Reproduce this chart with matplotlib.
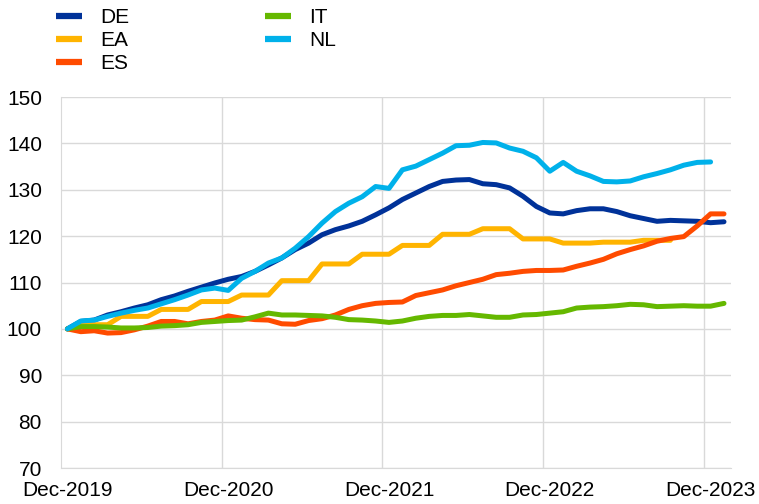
import matplotlib
matplotlib.use("Agg")
import matplotlib.pyplot as plt
import numpy as np

plt.rcParams['font.family'] = ['Liberation Sans', 'DejaVu Sans']

# monthly index, Dec-2019 = 100 (Dec-2019 .. Jan-2024)
months = ['Dec-2019', 'Jan-2020', 'Feb-2020', 'Mar-2020', 'Apr-2020', 'May-2020', 'Jun-2020',
          'Jul-2020', 'Aug-2020', 'Sep-2020', 'Oct-2020', 'Nov-2020', 'Dec-2020',
          'Jan-2021', 'Feb-2021', 'Mar-2021', 'Apr-2021', 'May-2021', 'Jun-2021',
          'Jul-2021', 'Aug-2021', 'Sep-2021', 'Oct-2021', 'Nov-2021', 'Dec-2021',
          'Jan-2022', 'Feb-2022', 'Mar-2022', 'Apr-2022', 'May-2022', 'Jun-2022',
          'Jul-2022', 'Aug-2022', 'Sep-2022', 'Oct-2022', 'Nov-2022', 'Dec-2022',
          'Jan-2023', 'Feb-2023', 'Mar-2023', 'Apr-2023', 'May-2023', 'Jun-2023',
          'Jul-2023', 'Aug-2023', 'Sep-2023', 'Oct-2023', 'Nov-2023', 'Dec-2023',
          'Jan-2024']

de = [100.0, 101.6, 101.9, 103.0, 103.7, 104.5, 105.2, 106.3, 107.1, 108.1, 109.0, 109.9, 110.7,
      111.3, 112.4, 113.8, 115.3, 117.1, 118.5, 120.3, 121.4, 122.2, 123.2, 124.6, 126.1,
      127.9, 129.3, 130.7, 131.8, 132.1, 132.2, 131.3, 131.1, 130.4, 128.6, 126.4, 125.0,
      124.8, 125.5, 125.9, 125.9, 125.3, 124.4, 123.8, 123.2, 123.4, 123.3, 123.2, 122.9,
      123.1]
ea = [100.0, 100.9, 100.9, 100.9, 102.7, 102.7, 102.7, 104.2, 104.2, 104.2, 105.9, 105.9, 105.9,
      107.3, 107.3, 107.3, 110.4, 110.4, 110.4, 114.0, 114.0, 114.0, 116.1, 116.1, 116.1,
      118.0, 118.0, 118.0, 120.4, 120.4, 120.4, 121.6, 121.6, 121.6, 119.4, 119.4, 119.4,
      118.5, 118.5, 118.5, 118.7, 118.7, 118.7, 119.1, 119.1, 119.1]
es = [100.0, 99.4, 99.6, 99.1, 99.2, 99.8, 100.6, 101.6, 101.6, 101.1, 101.6, 101.9, 102.8,
      102.3, 102.0, 101.9, 101.1, 101.0, 101.8, 102.2, 103.0, 104.2, 105.0, 105.5, 105.7,
      105.8, 107.2, 107.8, 108.4, 109.3, 110.0, 110.7, 111.7, 112.0, 112.4, 112.6, 112.6,
      112.7, 113.5, 114.2, 115.0, 116.2, 117.1, 117.9, 118.9, 119.5, 119.9, 122.2, 124.8,
      124.8]
it = [100.0, 100.5, 100.5, 100.4, 100.2, 100.2, 100.3, 100.6, 100.7, 100.9, 101.4, 101.6, 101.8,
      101.9, 102.6, 103.4, 103.0, 103.0, 102.9, 102.8, 102.5, 102.0, 101.9, 101.7, 101.4,
      101.7, 102.3, 102.7, 102.9, 102.9, 103.1, 102.8, 102.5, 102.5, 103.0, 103.1, 103.4,
      103.7, 104.5, 104.7, 104.8, 105.0, 105.3, 105.2, 104.8, 104.9, 105.0, 104.9, 104.9,
      105.5]
nl = [100.0, 101.7, 101.9, 102.7, 103.4, 104.0, 104.5, 105.4, 106.3, 107.3, 108.4, 108.8, 108.3,
      110.9, 112.4, 114.2, 115.3, 117.4, 119.9, 122.8, 125.3, 127.1, 128.5, 130.7, 130.3,
      134.3, 135.1, 136.5, 137.9, 139.5, 139.6, 140.2, 140.1, 139.0, 138.3, 136.9, 134.0,
      135.9, 134.0, 133.0, 131.8, 131.7, 131.9, 132.8, 133.5, 134.3, 135.3, 135.9, 136.0]

series = [('DE', de, '#003299'), ('EA', ea, '#FFB400'), ('ES', es, '#FF4B00'),
          ('IT', it, '#65B800'), ('NL', nl, '#00B1EA')]

fig = plt.figure(figsize=(7.59, 5.04), dpi=100)
ax = fig.add_axes([0.080, 0.0714, 0.8827, 0.7361])

for name, vals, col in series:
    ax.plot(np.arange(len(vals)), vals, color=col, lw=3.6, label=name,
            solid_capstyle='round', solid_joinstyle='round')

ax.set_xlim(-0.5, len(months) - 0.5)
ax.set_ylim(70, 150)
ax.set_yticks(range(70, 151, 10))
ax.set_xticks(range(0, len(months), 12))
ax.set_xticklabels(months[::12])
ax.set_xticks(np.arange(11.5, len(months), 12), minor=True)

ax.grid(axis='y', color='#d9d9d9', lw=1)
ax.grid(axis='x', which='minor', color='#d9d9d9', lw=1)
ax.set_axisbelow(True)
ax.tick_params(which='both', length=0, labelsize=15, colors='black')
ax.tick_params(axis='y', pad=13.5)
ax.tick_params(axis='x', pad=9)
for s in ['top', 'right']:
    ax.spines[s].set_visible(False)
for s in ['left', 'bottom']:
    ax.spines[s].set_color('#d9d9d9')

leg = fig.legend(loc='upper left', bbox_to_anchor=(56 / 759, 1 - 8 / 504), ncol=2,
                 frameon=False, fontsize=15, handlelength=1.25, handletextpad=0.87,
                 columnspacing=6.5, labelspacing=0.2, borderpad=0, borderaxespad=0)
for h in leg.legend_handles:
    h.set_linewidth(4.5)
    h.set_solid_capstyle('butt')

fig.savefig('out.png', dpi=100)
